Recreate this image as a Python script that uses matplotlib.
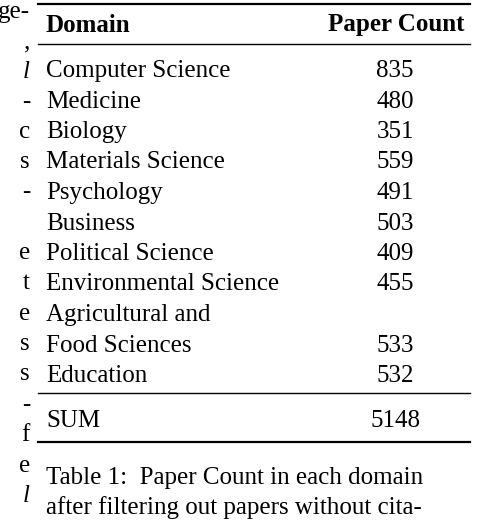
import matplotlib.pyplot as plt

plt.rcParams['font.family'] = 'serif'
plt.rcParams['font.serif'] = ['Liberation Serif', 'Nimbus Roman', 'DejaVu Serif']

domains = ["Computer Science", "Medicine", "Biology", "Materials Science", "Psychology",
           "Business", "Political Science", "Environmental Science",
           "Agricultural and\nFood Sciences", "Education"]
counts = [835, 480, 351, 559, 491, 503, 409, 455, 533, 532]
total = 5148
caption = ["Table 1:  Paper Count in each domain", "after filtering out papers without cita-"]
# clipped text of the neighbouring column
left_bits = [(12, "ge-"), (42, ","), (72, "l"), (102, "-"), (132, "c"), (162, "s"), (192, "-"),
             (253, "e"), (283, "t"), (314, "e"), (344, "s"), (374, "s"), (405, "-"),
             (435, "f"), (466, "e"), (496, "l")]

W, H = 478, 520
fig = plt.figure(figsize=(W / 100, H / 100), dpi=100)
FS = 18

def t(x, y, s, **kw):
    fig.text(x / W, 1 - y / H, s, fontsize=FS, va='center', family='serif', **kw)

def rule(y, lw):
    fig.add_artist(plt.Line2D([38 / W, 470 / W], [1 - y / H] * 2, color='black', lw=lw))

for y, s in left_bits:
    t(30, y, s, ha='right', style='italic' if s == "l" else 'normal')

rule(4, 1.6)
t(46, 25, "Domain", weight='bold')
t(464, 25, "Paper Count", weight='bold', ha='right')
rule(44, 1.0)

y = 71
for d, c in zip(domains, counts):
    lines = d.split("\n")
    for i, line in enumerate(lines):
        t(46, y + i * 31, line)
    t(395, y + (len(lines) - 1) * 31, str(c), ha='center')
    y += 30.5 * len(lines)

rule(393, 1.0)
t(46, 421, "SUM")
t(395, 421, str(total), ha='center')
rule(442, 1.6)

t(46, 478, caption[0])
t(46, 508, caption[1])

fig.savefig("out.png", dpi=100)
